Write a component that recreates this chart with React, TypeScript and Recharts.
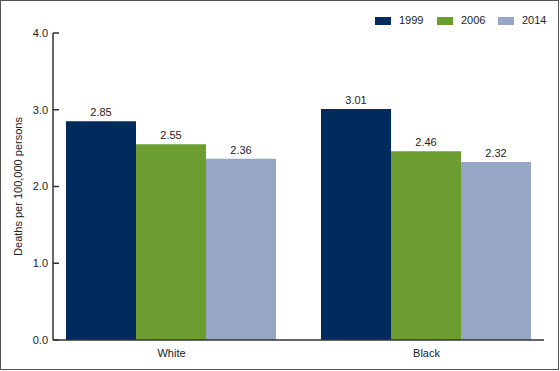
import React from "react";
import { BarChart, Bar, XAxis, YAxis, LabelList } from "recharts";

const groups = ["White", "Black"];
const years = ["1999", "2006", "2014"];
const rate1999 = [2.85, 3.01];
const rate2006 = [2.55, 2.46];
const rate2014 = [2.36, 2.32];
const yTicks = [0, 1, 2, 3, 4];

const yearColors: Record<string, string> = {
  "1999": "#002b5c",
  "2006": "#6b9d30",
  "2014": "#98a6c6",
};

const data = groups.map((g, i) => ({
  group: g,
  y1999: rate1999[i],
  y2006: rate2006[i],
  y2014: rate2014[i],
}));

const FONT = "'Liberation Sans', Arial, sans-serif";
const AXIS = "#333";

function YTick(props: any) {
  const { x, y, payload } = props;
  return (
    <g>
      <line x1={x + 5} x2={x + 11} y1={y} y2={y} stroke={AXIS} strokeWidth={1.5} />
      <text x={x} y={y} dy="0.355em" textAnchor="end" fontSize={11} fill="#222" fontFamily={FONT}>
        {Number(payload.value).toFixed(1)}
      </text>
    </g>
  );
}

// legend sits outside the chart so it doesn't push the plot area down
function YearLegend() {
  const starts = [375, 437, 498];
  return (
    <>
      {years.map((yr, i) => (
        <div key={yr}>
          <div
            style={{
              position: "absolute",
              left: starts[i],
              top: 17,
              width: 16,
              height: 8,
              background: yearColors[yr],
            }}
          />
          <span
            style={{
              position: "absolute",
              left: starts[i] + 24,
              top: 13,
              fontSize: 11,
              lineHeight: "14px",
              color: "#222",
              fontFamily: FONT,
            }}
          >
            {yr}
          </span>
        </div>
      ))}
    </>
  );
}

export default function App() {
  return (
    <div style={{ position: "relative", width: 560, height: 371, background: "#fff" }}>
      <style>{`body { margin: 0; }`}</style>
      <BarChart
        width={560}
        height={371}
        data={data}
        margin={{ top: 33, right: 16, bottom: 0, left: 0 }}
        barCategoryGap={22}
        barGap={0}
      >
        <XAxis
          dataKey="group"
          height={31}
          padding={{ left: -9, right: -10 }}
          axisLine={{ stroke: AXIS, strokeWidth: 1.5 }}
          tickLine={false}
          tickSize={0}
          tickMargin={9}
          tick={{ fontSize: 11, fill: "#222", fontFamily: FONT }}
        />
        <YAxis
          domain={[0, 4]}
          ticks={yTicks}
          width={53}
          axisLine={{ stroke: AXIS, strokeWidth: 1.5 }}
          tickLine={false}
          tickSize={0}
          tickMargin={5}
          tick={<YTick />}
          label={{
            value: "Deaths per 100,000 persons",
            angle: -90,
            position: "insideLeft",
            offset: 18,
            style: { textAnchor: "middle", fontSize: 11, fill: "#222", fontFamily: FONT },
          }}
        />
        {years.map((yr) => (
          <Bar key={yr} dataKey={`y${yr}`} fill={yearColors[yr]} isAnimationActive={false}>
            <LabelList
              dataKey={`y${yr}`}
              position="top"
              offset={5}
              formatter={(v: any) => Number(v).toFixed(2)}
              style={{ fontSize: 11, fill: "#222", fontFamily: FONT }}
            />
          </Bar>
        ))}
      </BarChart>
      <YearLegend />
      <div
        style={{
          position: "absolute",
          left: 0,
          top: 0,
          width: 559,
          height: 370,
          boxSizing: "border-box",
          border: "1.5px solid #555",
          pointerEvents: "none",
        }}
      />
    </div>
  );
}
